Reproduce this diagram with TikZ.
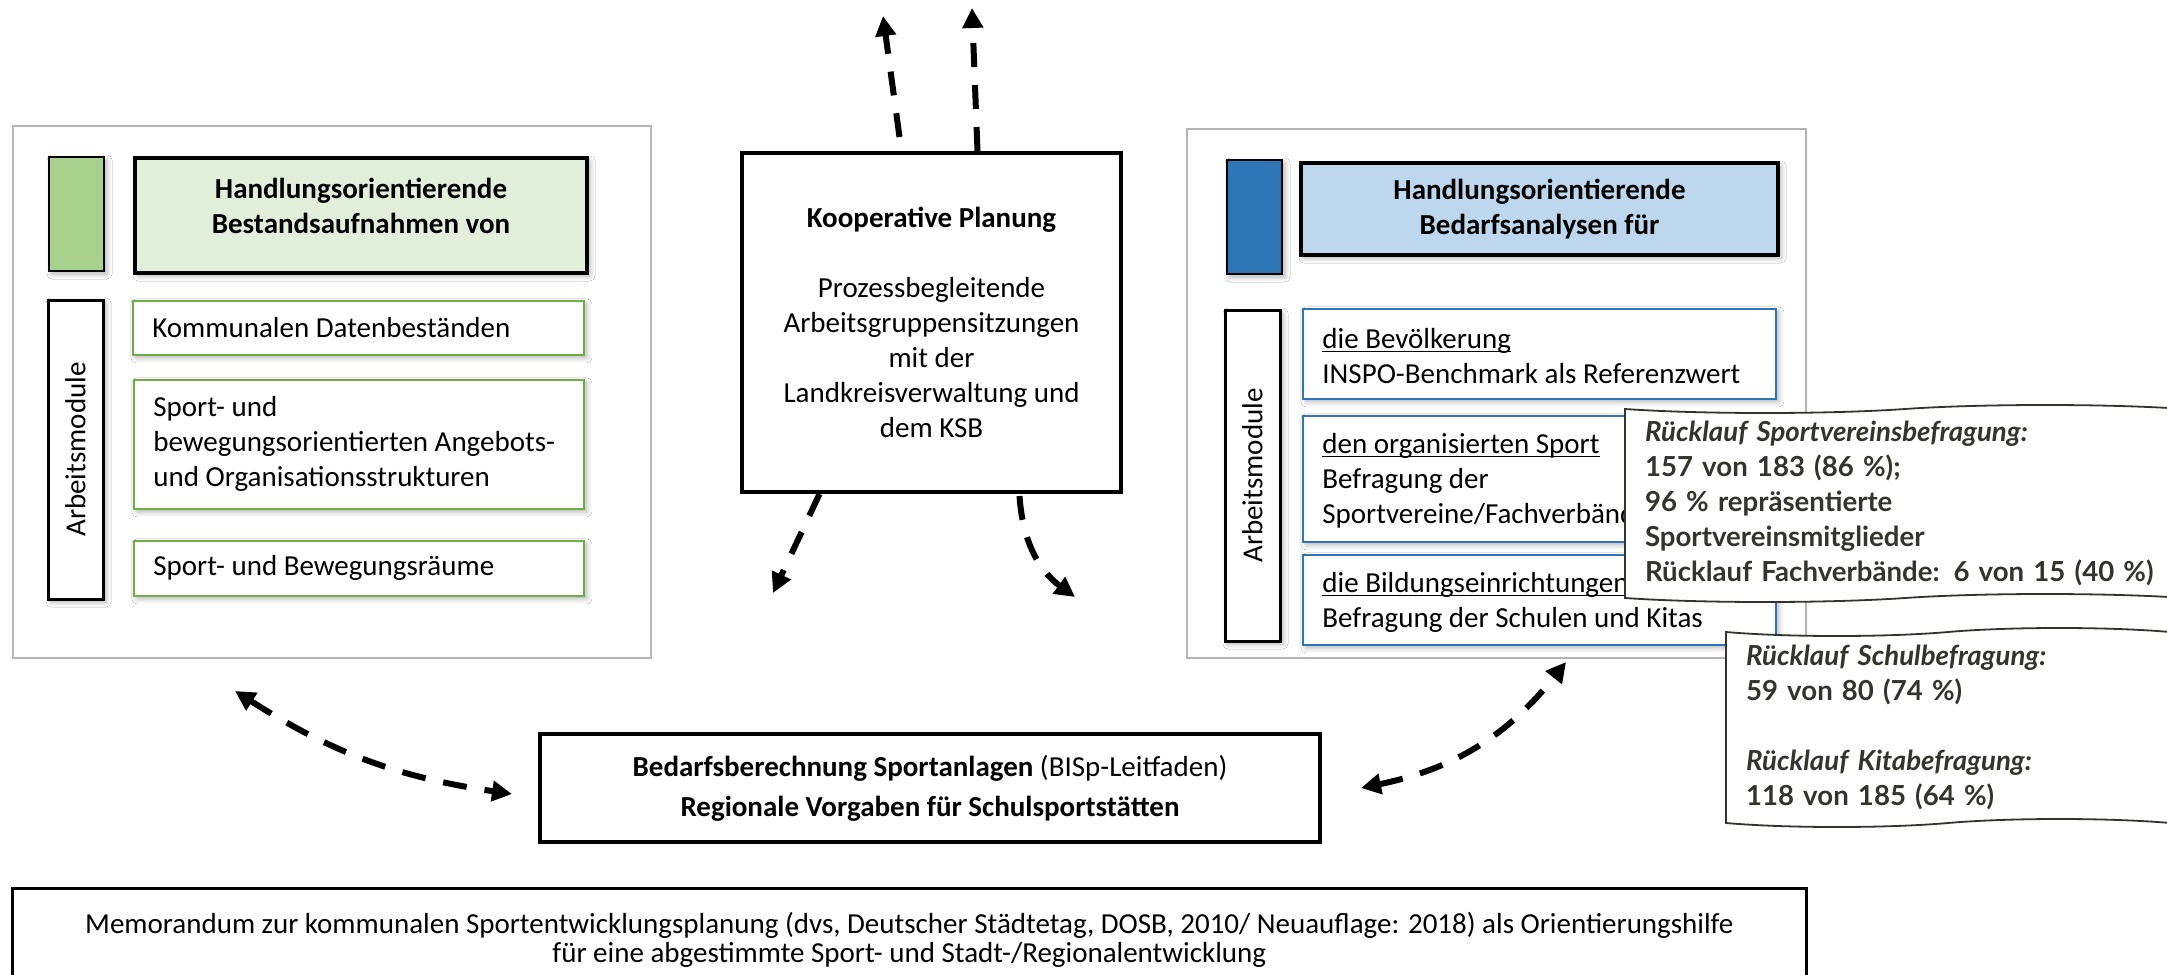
\documentclass[tikz,border=0pt]{standalone}
\usepackage{fontspec}
\setmainfont{Carlito}
\newfontfamily\notefont{Lato}
\usetikzlibrary{shadows.blur}
\usetikzlibrary{shapes.symbols}
\usetikzlibrary{arrows.meta}
\definecolor{gruenbalken}{HTML}{A9D18E}
\definecolor{gruenkopf}{HTML}{E2EFDA}
\definecolor{gruenrand}{HTML}{70AD47}
\definecolor{blaubalken}{HTML}{2E75B6}
\definecolor{blaukopf}{HTML}{BDD7EE}
\definecolor{blaurand}{HTML}{2E75B6}
\definecolor{rahmengrau}{HTML}{B4B4B4}
\definecolor{notiz}{HTML}{33332F}
\newcommand{\strich}[1]{\underline{\smash{#1}}\strut}
\tikzset{%
	softshadow/.style={blur shadow={shadow xshift=1.5pt,shadow yshift=-1.5pt,shadow blur radius=2.5pt,shadow blur steps=5,shadow opacity=30}},
	frame/.style={draw=rahmengrau,line width=1.2pt,fill=white,anchor=north west},
	bar/.style={draw,line width=1pt,fill=#1,softshadow,anchor=north west},
	modulbar/.style={draw,line width=1.5pt,fill=white,softshadow,font=\fontsize{14.5}{17.5}\selectfont},
	headbox/.style={draw,line width=2pt,fill=#1,softshadow,anchor=north west},
	headtext/.style={align=center,inner sep=0pt,font=\bfseries\fontsize{14.5}{17.5}\selectfont},
	modbox/.style={draw=#1,line width=0.9pt,fill=white,softshadow,anchor=north west},
	modtext/.style={anchor=west,align=left,inner sep=0pt,font=\fontsize{14.5}{17.5}\selectfont},
	plainbox/.style={draw,line width=2pt,fill=white,anchor=north west,align=center,font=\fontsize{14.5}{17.5}\selectfont},
	notebox/.style={tape,draw=notiz,line width=0.9pt,fill=white,tape bend height=4pt,align=left,inner xsep=10pt,text=notiz,font=\notefont\bfseries\fontsize{13.8}{17.5}\selectfont},
	link/.style={line width=3pt,dash pattern=on 12pt off 9pt}
}

\begin{document}
\begin{tikzpicture}[x=0.5pt,y=-0.5pt,>={Triangle[length=10pt,width=10pt]}]
	\useasboundingbox (0,0) rectangle (2167,974);
	\clip (0,0) rectangle (2167,974);

	% Bestandsaufnahmen
	\node [frame,minimum width=319pt,minimum height=266pt] (bestand) at (12,125) {};
	\node [bar=gruenbalken,minimum width=27.5pt,minimum height=57pt] (bestandbalken) at (48,156) {};
	\node [headbox=gruenkopf,minimum width=226pt,minimum height=57.5pt] (bestandkopf) at (133,156) {};
	\node [headtext] (bestandtitel) at ([yshift=5pt]bestandkopf.center) {Handlungsorientierende\\Bestandsaufnahmen von};
	\node [modulbar,rotate=90,minimum width=149.5pt,minimum height=27.5pt] (bestandmodule) at (75.5,449.5) {Arbeitsmodule};
	\node [modbox=gruenrand,minimum width=225.5pt,minimum height=27pt] (daten) at (132,300) {};
	\node [modtext] (datentext) at ([xshift=10pt]daten.west) {Kommunalen Datenbeständen};
	\node [modbox=gruenrand,minimum width=225pt,minimum height=64.5pt] (angebote) at (133,379) {};
	\node [modtext] (angebotetext) at ([xshift=10pt]angebote.west) {Sport- und\\bewegungsorientierten Angebots-\\und Organisationsstrukturen};
	\node [modbox=gruenrand,minimum width=225pt,minimum height=27.5pt] (raeume) at (133,540) {};
	\node [modtext] (raeumetext) at ([xshift=10pt]raeume.west) {Sport- und Bewegungsräume};

	% Bedarfsanalysen
	\node [frame,minimum width=309.5pt,minimum height=264.5pt] (bedarfsanalyse) at (1186,128) {};
	\node [bar=blaubalken,minimum width=27.5pt,minimum height=57pt] (bedarfbalken) at (1226,159) {};
	\node [headbox=blaukopf,minimum width=238.5pt,minimum height=46pt] (bedarfkopf) at (1299,161) {};
	\node [headtext] (bedarftitel) at (bedarfkopf.center) {Handlungsorientierende\\Bedarfsanalysen für};
	\node [modulbar,rotate=90,minimum width=165.5pt,minimum height=27.5pt] (bedarfmodule) at (1252.5,475.5) {Arbeitsmodule};
	\node [modbox=blaurand,minimum width=236.5pt,minimum height=45pt] (bevoelkerung) at (1302,308) {};
	\node [modtext] (bevoelkerungtext) at ([xshift=10pt]bevoelkerung.west) {\strich{die Bevölkerung}\\INSPO-Benchmark als Referenzwert};
	\node [modbox=blaurand,minimum width=236.5pt,minimum height=63pt] (sport) at (1302,415) {};
	\node [modtext] (sporttext) at ([xshift=10pt]sport.west) {\strich{den organisierten Sport}\\Befragung der\\Sportvereine/Fachverbände};
	\node [modbox=blaurand,minimum width=236.5pt,minimum height=45pt] (bildung) at (1302,554) {};
	\node [modtext] (bildungtext) at ([xshift=10pt]bildung.west) {\strich{die Bildungseinrichtungen}\\Befragung der Schulen und Kitas};

	% Mitte und unten
	\node [plainbox,minimum width=189.5pt,minimum height=169.5pt] (plan) at (740,151) {\textbf{Kooperative Planung}\\[17.5pt]Prozessbegleitende\\Arbeitsgruppensitzungen\\mit der\\Landkreisverwaltung und\\dem KSB};
	\node [plainbox,minimum width=390pt,minimum height=54pt] (bedarf) at (538,732) {\textbf{Bedarfsberechnung Sportanlagen} (BISp-Leitfaden)\\[2.5pt]\textbf{Regionale Vorgaben für Schulsportstätten}};
	\node [plainbox,line width=1.3pt,minimum width=897pt,minimum height=52pt,font=\fontsize{14.5}{14.5}\selectfont] (memorandum) at (11,887) {Memorandum zur kommunalen Sportentwicklungsplanung (dvs, Deutscher Städtetag, DOSB, 2010/ Neuauflage: 2018) als Orientierungshilfe\\für eine abgestimmte Sport- und Stadt-/Regionalentwicklung};

	% Pfeile
	\coordinate (zielA) at (883,16);
	\coordinate (zielB) at (972,8);
	\coordinate (zielC) at (773,593);
	\coordinate (zielD) at (1075,597);
	\coordinate (linksP) at (235,691);
	\coordinate (rechtsP) at (1566,662);
	\draw [link,->] ([xshift=-16pt,yshift=7pt]plan.north) -- (zielA);
	\draw [link,->] ([xshift=23pt]plan.north) -- (zielB);
	\draw [link,->] ([xshift=-56pt]plan.south) -- (zielC);
	\draw [link,->] ([xshift=44pt,yshift=-1pt]plan.south) to[bend right=25] (zielD);
	\draw [link,<->] (linksP) to[bend right=12] ([xshift=-13pt,yshift=-3pt]bedarf.west);
	\draw [link,<->] ([xshift=19.5pt]bedarf.east) to[bend right=20] (rechtsP);

	% Ruecklauf
	\node [notebox,minimum width=280pt,minimum height=98.5pt,text width=260pt] (ruecklaufverein) at (1905,503.5) {{\itshape Rücklauf Sportvereinsbefragung:}\\157 von 183 (86 \%);\\96 \% repräsentierte\\Sportvereinsmitglieder\\Rücklauf Fachverbände: 6 von 15 (40 \%)};
	\node [notebox,minimum width=222pt,minimum height=99.5pt,text width=202pt] (ruecklaufschule) at (1948,727.5) {{\itshape Rücklauf Schulbefragung:}\\59 von 80 (74 \%)\\[17.5pt]{\itshape Rücklauf Kitabefragung:}\\118 von 185 (64 \%)};

\end{tikzpicture}
\end{document}
